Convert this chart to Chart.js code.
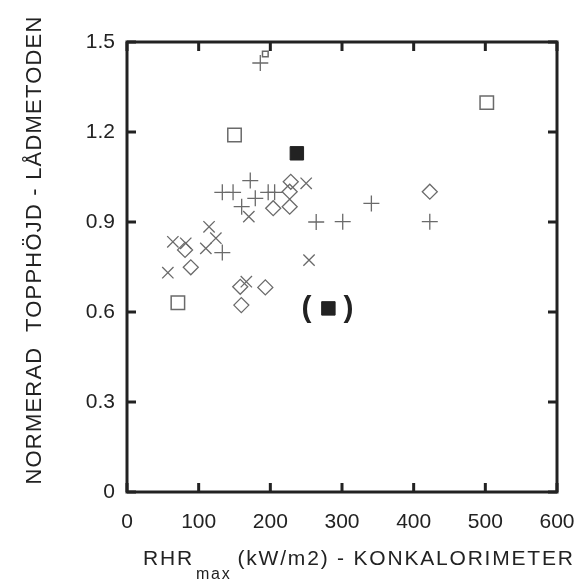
<!DOCTYPE html>
<html>
<head>
<meta charset="utf-8">
<script src="https://cdn.jsdelivr.net/npm/chart.js@4.4.0/dist/chart.umd.min.js"></script>
<style>
  html, body { margin: 0; padding: 0; background: #fff; }
  #wrap { width: 587px; height: 588px; position: relative; }
</style>
</head>
<body>
<div id="wrap"><canvas id="rhrChart" width="587" height="588"></canvas></div>
<script>
// axis ticks
const xTicks = [0, 100, 200, 300, 400, 500, 600];
const yTicks = [0, 0.3, 0.6, 0.9, 1.2, 1.5];
const yTickLabels = ['0', '0.3', '0.6', '0.9', '1.2', '1.5'];

// open squares
const sqOpenX = [71, 150, 502];
const sqOpenY = [0.631, 1.19, 1.298];
// small open square at the top
const sqSmallX = [193];
const sqSmallY = [1.46];
// filled squares (second one is bracketed)
const sqFilledX = [237, 281];
const sqFilledY = [1.129, 0.612];
// diamonds
const diamondX = [89, 81, 158, 159.5, 193, 204, 227, 227, 228.5, 422.5];
const diamondY = [0.749, 0.807, 0.684, 0.623, 0.682, 0.946, 0.951, 1.001, 1.034, 1.001];
// plus signs
const plusX = [186, 172, 133, 148, 197, 206, 179, 160, 264, 301, 341, 422.5, 133];
const plusY = [1.43, 1.038, 0.999, 0.999, 0.999, 0.999, 0.979, 0.951, 0.9, 0.901, 0.962, 0.901, 0.798];
// diagonal crosses
const crossX = [170, 250, 254, 166.5, 57, 64, 82, 114.5, 124, 110];
const crossY = [0.918, 1.029, 0.773, 0.701, 0.731, 0.834, 0.829, 0.884, 0.846, 0.812];

const pts = (xs, ys) => xs.map((x, i) => ({ x: x, y: ys[i] }));

const FONT = 'Liberation Sans, Arial, Helvetica, sans-serif';
const INK = '#222';
const MARK = '#6a6a6a';

// frame, inward ticks, axis titles and the brackets
const framePlugin = {
  id: 'frame',
  afterDraw(chart) {
    const ctx = chart.ctx;
    const a = chart.chartArea;
    const xs = chart.scales.x, ys = chart.scales.y;
    ctx.save();
    ctx.strokeStyle = INK;
    ctx.lineWidth = 3;
    ctx.strokeRect(a.left, a.top, a.right - a.left, a.bottom - a.top);
    const tl = 9;
    xTicks.forEach(v => {
      const p = xs.getPixelForValue(v);
      ctx.beginPath();
      ctx.moveTo(p, a.bottom); ctx.lineTo(p, a.bottom - tl);
      ctx.moveTo(p, a.top); ctx.lineTo(p, a.top + tl);
      ctx.stroke();
    });
    yTicks.forEach(v => {
      const p = ys.getPixelForValue(v);
      ctx.beginPath();
      ctx.moveTo(a.left, p); ctx.lineTo(a.left + tl, p);
      ctx.moveTo(a.right, p); ctx.lineTo(a.right - tl, p);
      ctx.stroke();
    });

    // brackets around the second filled square
    const bx = xs.getPixelForValue(sqFilledX[1]);
    const by = ys.getPixelForValue(sqFilledY[1]);
    ctx.fillStyle = INK;
    ctx.font = 'bold 30px ' + FONT;
    ctx.textAlign = 'center';
    ctx.textBaseline = 'middle';
    ctx.fillText('(', bx - 22, by);
    ctx.fillText(')', bx + 20, by);

    // y title
    ctx.save();
    ctx.translate(35, 250);
    ctx.rotate(-Math.PI / 2);
    ctx.font = '22px ' + FONT;
    ctx.letterSpacing = '1.2px';
    ctx.textAlign = 'center';
    ctx.textBaseline = 'middle';
    ctx.fillText('NORMERAD  TOPPHÖJD - LÅDMETODEN', 0, 0);
    ctx.restore();

    // x title with subscript
    ctx.textAlign = 'left';
    ctx.textBaseline = 'alphabetic';
    ctx.letterSpacing = '1.8px';
    let x = 143;
    const base = 565;
    ctx.font = '21px ' + FONT;
    ctx.fillText('RHR', x, base);
    x += ctx.measureText('RHR').width + 2;
    ctx.font = '16px ' + FONT;
    ctx.fillText('max', x, base + 14);
    x += ctx.measureText('max').width + 6;
    ctx.font = '21px ' + FONT;
    ctx.fillText('(kW/m2) - KONKALORIMETER', x, base);
    ctx.restore();
  }
};

new Chart(document.getElementById('rhrChart'), {
  type: 'scatter',
  data: {
    datasets: [
      { data: pts(sqOpenX, sqOpenY), pointStyle: 'rect', pointRadius: 9.5,
        borderColor: MARK, borderWidth: 1.5, backgroundColor: '#fff' },
      { data: pts(sqSmallX, sqSmallY), pointStyle: 'rect', pointRadius: 4,
        borderColor: MARK, borderWidth: 1.5, backgroundColor: 'rgba(0,0,0,0)' },
      { data: pts(sqFilledX, sqFilledY), pointStyle: 'rect', pointRadius: 9.5,
        borderColor: INK, borderWidth: 1, backgroundColor: INK },
      { data: pts(diamondX, diamondY), pointStyle: 'rectRot', pointRadius: 7.5,
        borderColor: MARK, borderWidth: 1.3, backgroundColor: 'rgba(0,0,0,0)' },
      { data: pts(plusX, plusY), pointStyle: 'cross', pointRadius: 8,
        borderColor: MARK, borderWidth: 1.3 },
      { data: pts(crossX, crossY), pointStyle: 'crossRot', pointRadius: 8,
        borderColor: MARK, borderWidth: 1.3 }
    ]
  },
  options: {
    responsive: false,
    animation: false,
    layout: { padding: { top: 42, right: 30, left: 0, bottom: 0 } },
    plugins: { legend: { display: false }, tooltip: { enabled: false } },
    scales: {
      x: {
        type: 'linear', min: 0, max: 600,
        afterBuildTicks: s => { s.ticks = xTicks.map(v => ({ value: v })); },
        afterFit: s => { s.height = 96; s.paddingLeft = 0; s.paddingRight = 0; },
        grid: { display: false, drawTicks: false },
        border: { display: false },
        ticks: { color: INK, font: { family: FONT, size: 21 }, padding: 18, maxRotation: 0 }
      },
      y: {
        type: 'linear', min: 0, max: 1.5,
        afterBuildTicks: s => { s.ticks = yTicks.map(v => ({ value: v })); },
        afterFit: s => { s.width = 127; },
        grid: { display: false, drawTicks: false },
        border: { display: false },
        ticks: { color: INK, font: { family: FONT, size: 21 }, padding: 12,
          callback: (v, i) => yTickLabels[i] }
      }
    }
  },
  plugins: [framePlugin]
});
</script>
</body>
</html>
